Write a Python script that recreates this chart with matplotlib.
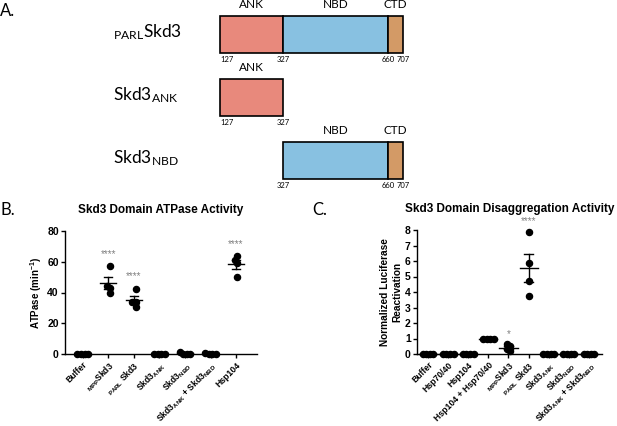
import numpy as np
import matplotlib
matplotlib.use("Agg")
import matplotlib.pyplot as plt
from matplotlib.patches import Rectangle

# ---------------- data ----------------
# Panel A: domain boundaries (residue numbers)
construct_labels = [r"$\mathregular{_{PARL}}$Skd3", r"Skd3$\mathregular{_{ANK}}$", r"Skd3$\mathregular{_{NBD}}$"]
domain_names = ["ANK", "NBD", "CTD"]
domain_starts = [127, 327, 660]
domain_ends = [327, 660, 707]
construct_domains = [["ANK", "NBD", "CTD"], ["ANK"], ["NBD", "CTD"]]
domain_colors = {"ANK": "#E8897C", "NBD": "#88C1E1", "CTD": "#D39A66"}

# Panel B: ATPase activity (min^-1)
b_categories = ["Buffer", r"$\mathregular{_{MPP}}$Skd3", r"$\mathregular{_{PARL}}$ Skd3",
                r"Skd3$\mathregular{_{ANK}}$", r"Skd3$\mathregular{_{NBD}}$",
                r"Skd3$\mathregular{_{ANK}}$ + Skd3$\mathregular{_{NBD}}$", "Hsp104"]
b_values = [
    [0, 0, 0, 0],
    [57, 44.5, 43, 40],
    [42.5, 34, 33.5, 30.5],
    [0, 0, 0, 0],
    [0, 0, 0.3, 1.2],
    [0, 0, 0, 0.4],
    [63.5, 61, 59, 50],
]
b_stars = ["", "****", "****", "", "", "", "****"]
b_yticks = [0, 20, 40, 60, 80]

# Panel C: normalized luciferase reactivation
c_categories = ["Buffer", "Hsp70/40", "Hsp104", "Hsp104 + Hsp70/40", r"$\mathregular{_{MPP}}$Skd3",
                r"$\mathregular{_{PARL}}$ Skd3", r"Skd3$\mathregular{_{ANK}}$", r"Skd3$\mathregular{_{NBD}}$",
                r"Skd3$\mathregular{_{ANK}}$ + Skd3$\mathregular{_{NBD}}$"]
c_values = [
    [0, 0, 0, 0],
    [0, 0, 0, 0],
    [0, 0, 0, 0],
    [1, 1, 1, 1],
    [0.52, 0.22, 0.30, 0.62],
    [7.9, 5.9, 4.7, 3.75],
    [0, 0, 0, 0],
    [0, 0, 0, 0],
    [0, 0, 0, 0],
]
c_stars = ["", "", "", "", "*", "****", "", "", ""]
c_yticks = [0, 1, 2, 3, 4, 5, 6, 7, 8]

# ---------------- figure ----------------
W, H = 617, 426
fig = plt.figure(figsize=(W / 100, H / 100), dpi=100)
plt.rcParams["font.family"] = ["Liberation Sans", "DejaVu Sans"]
plt.rcParams["mathtext.default"] = "regular"
LABEL_FONT = ["Lato", "DejaVu Sans"]


def px_box(x0, y0, x1, y1):
    return [x0 / W, 1 - y1 / H, (x1 - x0) / W, (y1 - y0) / H]


# ---------------- Panel A ----------------
row_pitch = 63.0
row0_center = 34.5
bar_h = 37.0 / row_pitch
ax_a = fig.add_axes(px_box(220, 10, 403, 195))
ax_a.set_xlim(127, 707)
ax_a.set_ylim((195 - row0_center) / row_pitch, (10 - row0_center) / row_pitch)
ax_a.axis("off")
for r, doms in enumerate(construct_domains):
    bounds = []
    for d in doms:
        i = domain_names.index(d)
        s, e = domain_starts[i], domain_ends[i]
        bounds += [s, e]
        ax_a.add_patch(Rectangle((s, r - bar_h / 2), e - s, bar_h, facecolor=domain_colors[d],
                                 edgecolor="black", linewidth=1.2, clip_on=False))
        ax_a.text((s + e) / 2, r - bar_h / 2 - 0.185, d, ha="center", va="center",
                  fontsize=8.5, family=LABEL_FONT)
    for b in sorted(set(bounds)):
        ha = "left" if b == domain_starts[0] else "center"
        ax_a.text(b, r + bar_h / 2 + 0.11, str(b), ha=ha, va="center", fontsize=5.5,
                  family=LABEL_FONT)
    fig.text(113 / W, 1 - (row0_center - 2 + r * row_pitch) / H, construct_labels[r],
             ha="left", va="center", fontsize=12.5, family=LABEL_FONT)

fig.text(0 / W, 1 - 11 / H, "A.", ha="left", va="center", fontsize=12, family=LABEL_FONT)
fig.text(0 / W, 1 - 210 / H, "B.", ha="left", va="center", fontsize=12, family=LABEL_FONT)
fig.text(312 / W, 1 - 210 / H, "C.", ha="left", va="center", fontsize=12, family=LABEL_FONT)


# ---------------- helpers ----------------
def beeswarm(vals, px_per_x, px_per_y, d=3.6):
    order = np.argsort(vals)
    placed = []
    offs = np.zeros(len(vals))
    for idx in order:
        y = vals[idx] * px_per_y
        cands = [0]
        for k in range(1, 30):
            cands += [-k * d / 2, k * d / 2]
        for c in cands:
            if all((c - px) ** 2 + (y - py) ** 2 >= (d * 0.98) ** 2 for px, py in placed):
                offs[idx] = c
                placed.append((c, y))
                break
    offs = offs - (offs.max() + offs.min()) / 2
    return offs / px_per_x


def scatter_panel(ax, values, stars, px_per_x, px_per_y, mean_hw, cap_hw, star_pad):
    for i, vals in enumerate(values):
        vals = np.array(vals, dtype=float)
        offs = beeswarm(vals, px_per_x, px_per_y)
        m = vals.mean()
        sem = vals.std(ddof=1) / np.sqrt(len(vals))
        ax.plot([i - mean_hw, i + mean_hw], [m, m], color="black", lw=1.0, zorder=2, clip_on=False)
        if sem > 0:
            ax.plot([i, i], [m - sem, m + sem], color="black", lw=1.0, zorder=2)
            for yy in (m - sem, m + sem):
                ax.plot([i - cap_hw, i + cap_hw], [yy, yy], color="black", lw=1.0, zorder=2)
        ax.plot(i + offs, vals, "o", color="black", ms=4.4, zorder=3, clip_on=False)
        if stars[i]:
            ax.text(i, vals.max() + star_pad, stars[i], ha="center", va="center",
                    fontsize=7, color="#808080", clip_on=False)


def style_axes(ax, xsize):
    for s in ("top", "right"):
        ax.spines[s].set_visible(False)
    for s in ("left", "bottom"):
        ax.spines[s].set_linewidth(1.0)
    ax.tick_params(axis="both", direction="out", length=3.0, width=1.0, pad=1.5)
    ax.tick_params(axis="y", labelsize=7.5)
    ax.tick_params(axis="x", labelsize=xsize)
    for lab in ax.get_yticklabels() + ax.get_xticklabels():
        lab.set_fontweight("bold")


# ---------------- Panel B ----------------
ax_b = fig.add_axes(px_box(65, 231, 257, 354))
nb = len(b_categories)
ax_b.set_xlim(-0.7, nb - 1 + 0.82)
ax_b.set_ylim(0, 80)
ax_b.set_yticks(b_yticks)
ax_b.set_xticks(range(nb))
ax_b.set_xticklabels(b_categories, rotation=45, ha="right", rotation_mode="anchor")
style_axes(ax_b, 6.2)
scatter_panel(ax_b, b_values, b_stars, 25.5, 123 / 80, 0.31, 0.16, 8.3)
ax_b.set_ylabel(r"ATPase (min$^{-1}$)", fontsize=7, fontweight="bold", labelpad=2)
ax_b.set_title("Skd3 Domain ATPase Activity", fontsize=8.5, fontweight="bold", pad=13)

# ---------------- Panel C ----------------
ax_c = fig.add_axes(px_box(417, 230, 602, 354))
nc = len(c_categories)
ax_c.set_xlim(-0.55, nc - 1 + 0.65)
ax_c.set_ylim(0, 8)
ax_c.set_yticks(c_yticks)
ax_c.set_xticks(range(nc))
ax_c.set_xticklabels(c_categories, rotation=45, ha="right", rotation_mode="anchor")
style_axes(ax_c, 6.2)
scatter_panel(ax_c, c_values, c_stars, 20.0, 124 / 8, 0.45, 0.23, 0.65)
ax_c.set_ylabel("Normalized Luciferase\nReactivation", fontsize=7.3, fontweight="bold", labelpad=2)
ax_c.set_title("Skd3 Domain Disaggregation Activity", fontsize=8.5, fontweight="bold", pad=13)

fig.savefig("out.png", dpi=100)
